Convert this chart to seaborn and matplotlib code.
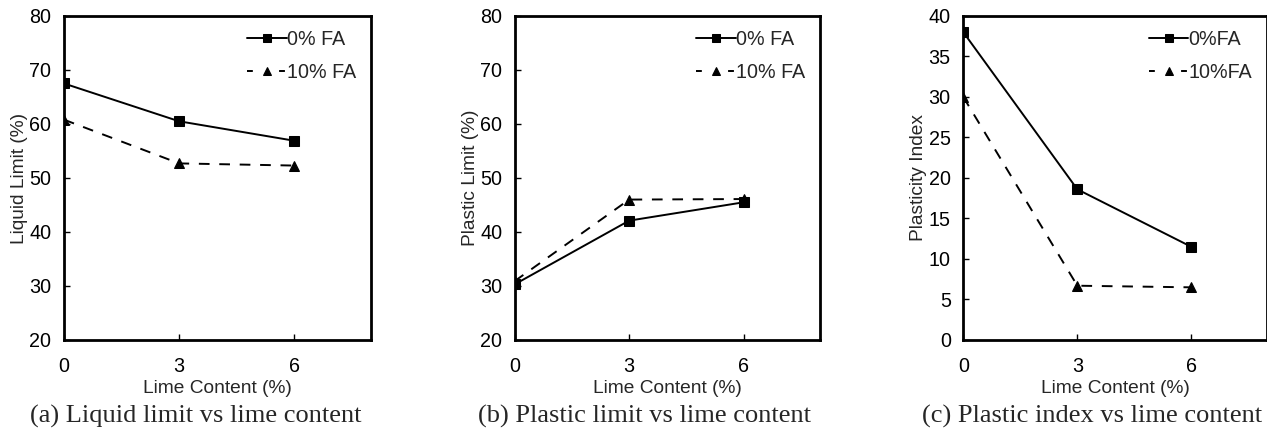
import matplotlib
matplotlib.use("Agg")
import matplotlib.pyplot as plt
import seaborn as sns
import pandas as pd

# Lime content (%) on the x axis
lime = [0, 3, 6]

# Liquid limit (%)
ll_0fa = [67.5, 60.5, 56.9]
ll_10fa = [60.8, 52.7, 52.3]

# Plastic limit (%)
pl_0fa = [30.3, 42.1, 45.5]
pl_10fa = [30.9, 46.0, 46.1]

# Plasticity index
pi_0fa = [38.0, 18.6, 11.5]
pi_10fa = [30.0, 6.7, 6.5]

sns.set_theme(style="white")
plt.rcParams["font.family"] = ["Liberation Sans", "DejaVu Sans"]

fig = plt.figure(figsize=(12.67, 4.32), dpi=100)

panels = [
    dict(rect=[0.0505, 0.213, 0.2423, 0.750], s0=ll_0fa, s1=ll_10fa,
         ylabel="Liquid Limit (%)", ylim=(20, 80), yticks=range(20, 81, 10),
         labels=("0% FA", "10% FA"), caption="(a) Liquid limit vs lime content", cx=196),
    dict(rect=[0.4062, 0.213, 0.2410, 0.750], s0=pl_0fa, s1=pl_10fa,
         ylabel="Plastic Limit (%)", ylim=(20, 80), yticks=range(20, 81, 10),
         labels=("0% FA", "10% FA"), caption="(b) Plastic limit vs lime content", cx=645),
    dict(rect=[0.7603, 0.213, 0.2400, 0.750], s0=pi_0fa, s1=pi_10fa,
         ylabel="Plasticity Index", ylim=(0, 40), yticks=range(0, 41, 5),
         labels=("0%FA", "10%FA"), caption="(c) Plastic index vs lime content", cx=1092),
]

for p in panels:
    ax = fig.add_axes(p["rect"])
    df = pd.DataFrame({
        "lime": lime * 2,
        "value": p["s0"] + p["s1"],
        "series": [p["labels"][0]] * 3 + [p["labels"][1]] * 3,
    })
    sns.lineplot(data=df, x="lime", y="value", hue="series", style="series",
                 palette=["black", "black"], markers=["s", "^"],
                 dashes=[(None, None), (5.5, 5)], markersize=6.8, linewidth=1.4,
                 markeredgecolor="black", ax=ax)
    ax.set_xlim(0, 8)
    ax.set_ylim(*p["ylim"])
    ax.set_xticks(lime)
    ax.set_yticks(list(p["yticks"]))
    ax.tick_params(direction="in", length=4, width=1, labelsize=14.2, colors="black",
                   left=True, bottom=True)
    ax.tick_params(axis="x", pad=12)
    ax.tick_params(axis="y", pad=9)
    for sp in ax.spines.values():
        sp.set_linewidth(2)
        sp.set_color("black")
        sp.set_visible(True)
    ax.set_xlabel("Lime Content (%)", fontsize=13.8, labelpad=3)
    ax.set_ylabel(p["ylabel"], fontsize=13.8, labelpad=1)
    leg = ax.legend(loc="upper right", frameon=False, fontsize=14.2, handlelength=2.0,
                    handletextpad=0.0, markerscale=0.8, borderaxespad=0.3,
                    labelspacing=0.7, bbox_to_anchor=(0.995, 1.0))
    # short dash on either side of the triangle in the legend key
    leg.get_lines()[1].set_dashes((3.0, 13.5))
    fig.text(p["cx"] / 1267, 1 - 423 / 432, p["caption"], ha="center", va="baseline",
             fontsize=19, family=["Liberation Serif", "DejaVu Serif"])

fig.savefig("out.png", dpi=100)
